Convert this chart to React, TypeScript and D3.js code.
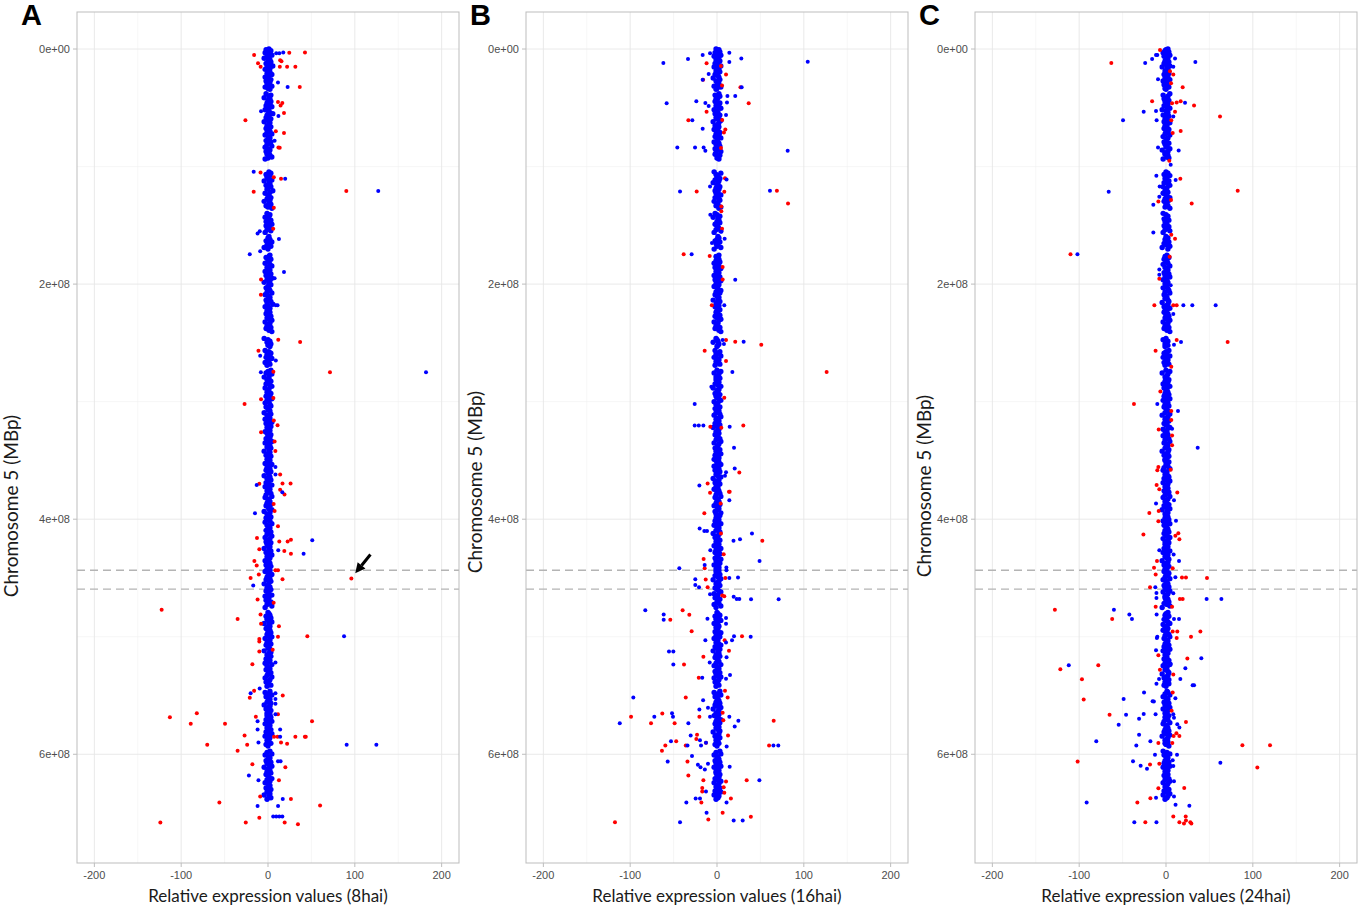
import * as d3 from 'd3'
import React from 'react'

const W = 1358
const H = 905
const PANEL_W = 382
const PANEL_TOP = 12
const PANEL_BOTTOM = 863

const panelLefts = [77, 526, 975]
const panelLabels = ['A', 'B', 'C']
const xTitles = [
  'Relative expression values (8hai)',
  'Relative expression values (16hai)',
  'Relative expression values (24hai)',
]
const yTitle = 'Chromosome 5 (MBp)'
// y title placement differs a little between the three pasted panels
const yTitleX = [18, 482, 931]
const yTitleMid = [506, 482, 486]

const xTicks = [-200, -100, 0, 100, 200]
const xMinor = [-150, -50, 50, 150]
const yTicks = [0, 200, 400, 600]
const yTickLabels = ['0e+00', '2e+08', '4e+08', '6e+08']
const yMinor = [100, 300, 500]
// the two dashed lines (Mbp)
const dashedMbp = [443.5, 459.5]
// arrow in panel A: [value, Mbp]
const arrowFrom: [number, number] = [118, 430]
const arrowTo: [number, number] = [100.5, 446]

const parse = (s: string) => s.trim().split(/\s+/).map(Number)

// positions of the genes in the dense central column (Mbp)
const geneMbp = parse(`
0 0.6 1.5 2.4 3.1 4.0 5.2 6.1 7.0 7.8 9.1 10.2 11.0 12.3 13.1 14.4 15.2 16.5 17.3 18.6 19.4 20.8 21.7 22.5 23.9 24.6 26.0 27.2 28.1 29.5 30.3 31.6 32.4 33.5 34.3
38.0 39.2 40.1 41.5 42.3 43.8 44.6 45.9 47.0 48.2 49.1 50.4 51.6 52.5 53.9 55.0 56.2 57.1 58.5 59.4 60.8 61.9 62.7 64.1 65.3 66.2 67.6 68.5 69.9 71.0
72.2 73.1 74.5 75.6 76.4 77.9 79.0 80.2 81.1 82.6 83.5 84.9 86.0 87.2 88.3 89.5 90.4 91.8 92.7 93.6
104.5 105.6 106.8 107.7 109.1 110.2 111.4 112.3 113.7 114.6 116.0 117.1 118.3 119.2 120.6 121.8 122.7 124.1 125.0 126.4 127.5 128.7 129.6 131.0 132.1 133.3 134.5 135.4
139.8 141.0 142.2 143.1 144.5 145.6 146.8 147.7 149.1 150.3 151.2 152.6 153.8 154.7 156.0
159.5 160.8 162.0 163.2 164.1 165.5 166.6 167.8 168.9 170.2
175.3 176.5 177.4 178.8 180.0 181.1 182.3 183.2 184.6 185.8 186.7 188.1 189.2 190.4 191.3 192.7 193.9 195.0 196.2 197.1 198.5 199.7 200.6 202.0 203.2 204.1
205.5 206.7 207.6 209.0 210.1 211.3 212.2 213.6 214.8 215.7 217.1 218.3 219.2 220.6 221.8 222.7 224.0 225.2 226.4 227.3 228.7 229.9 230.8 232.2 233.4 234.3 235.7 236.9 237.8 239.2 240.4
246.2 247.4 248.6 249.5 250.9 252.1 253.0
256.4 257.6 258.8 259.7 261.1 262.3 263.2 264.6 265.8 266.7 268.1 269.0
273.2 274.4 275.6 276.5 277.9 279.1 280.0 281.4 282.6 283.5 284.9 286.1 287.0 288.4 289.6 290.5 291.9 293.1 294.0 295.4 296.6 297.5 298.9 300.1 301.0 302.4
303.6 304.5 305.9 307.1 308.0 309.4 310.6 311.5 312.9 314.1 315.0 316.4 317.6 318.5 319.9 321.1 322.0 323.4 324.6 325.5 326.9 328.1 329.0 330.4 331.6 332.5
333.9 335.1 336.0 337.4 338.6 339.5 340.9 342.1 343.0 344.4 345.6 346.5 347.9 349.1 350.0 351.4 352.6 353.5 354.9 356.1 357.0 358.4 359.6 360.5 361.9 363.1
364.0 365.4 366.6 367.5 368.9 370.1 371.0 372.4 373.6 374.5 375.9 377.1 378.0 379.4 380.6 381.5 382.9 384.1 385.0 386.4 387.6 388.5 389.9 391.1 392.0 393.4
394.6 395.5 396.9 398.1 399.0 400.4 401.6 402.5 403.9 405.1 406.0 407.4 408.6 409.5 410.9 412.1 413.0 414.4 415.6 416.5 417.9 419.1 420.0 421.4 422.6 423.5
424.9 426.1 427.0 428.4 429.6 430.5 431.9 433.1 434.0 435.4 436.6 437.5 438.9 440.1 441.0 442.4 443.6 444.5 445.9 447.1 448.0 449.4 450.6 451.5 452.9 454.1
455.0 456.4 457.6 458.5 459.9 461.1 462.0 463.4 464.6 465.5 466.9 468.1 469.0 470.4 471.6 472.5 473.9 475.1
479.3 480.5 481.7 482.6 484.0 485.2 486.1 487.5 488.7 489.6 491.0 492.2 493.1 494.5 495.7 496.6 498.0 499.2 500.1 501.5 502.7 503.6 505.0 506.2 507.1 508.5
509.7 510.6 512.0 513.2 514.1 515.5 516.7 517.6 519.0 520.2 521.1 522.5 523.7 524.6 526.0 527.2 528.1 529.5 530.7 531.6 533.0 534.2 535.1 536.5 537.7 538.6 540.0 541.2 542.1
546.3 547.5 548.7 549.6 551.0 552.2 553.1 554.5 555.7 556.6 558.0 559.2 560.1 561.5 562.7 563.6 565.0 566.2 567.1 568.5 569.7 570.6 572.0 573.2 574.1
575.5 576.7 577.6 579.0 580.2 581.1 582.5 583.7 584.6 586.0 587.2 588.1 589.5 590.7 591.6 593.0
597.3 598.5 599.7 600.6 602.0 603.2 604.1 605.5 606.7 607.6 609.0 610.2 611.1 612.5 613.7 614.6 616.0 617.2 618.1 619.5 620.7 621.6 623.0 624.2 625.1
626.5 627.7 628.6 630.0 631.2 632.1 633.5 634.7 635.6 637.0 638.2 639.1 640.5 641.7 642.6 644.0 645.2 646.1 647.5 648.7 649.6 651.0 652.2 653.1 654.5
655.7 656.6 658.0 659.2 660.1
`)

// core values per gene, one list per time point, stored in steps of CORE_STEP
const CORE_STEP = 1.1
const core8 = parse(`
1 -2 3 0 -3 2 4 -1 1 -4 2 0 3 -2 1 5 -1 2 -3 0
2 -1 4 1 -3 0 3 -2 2 -1 1 4 -3 0 2 -2 3 1 -4 2
0 3 -1 2 -2 4 1 -3 0 2 5 -1 1 -2 3 0 -4 2 1 -1
3 -2 0 2 -1 4 -3 1 2 0 -2 3 1 -1 4 -3 0 2 -2 1
-1 2 4 0 -3 1 3 -2 2 -1 0 4 -4 1 2 -2 3 0 -1 5
2 -3 1 0 3 -1 2 -4 1 3 -2 0 4 -1 2 1 -3 0 3 -2
1 4 -2 0 2 -1 3 -3 1 0 2 -2 4 1 -1 3 -4 0 2 1
-2 3 0 1 -3 2 4 -1 0 2 -3 1 3 -2 0 4 -1 2 -4 1
3 0 -2 1 2 -1 4 -3 0 2 1 -2 3 -1 5 0 -3 2 1 -1
2 -2 0 3 -1 1 4 -3 2 0 -1 3 -2 1 4 -4 0 2 -1 3
0 2 -3 1 3 -1 2 -2 4 0 1 -3 2 -1 3 0 -2 4 1 -4
1 -1 3 0 -2 2 4 -3 1 0 -1 3 2 -2 0 4 -1 1 -3 2
3 -2 1 0 2 -4 3 -1 1 2 -3 0 4 -2 1 3 -1 0 2 -3
-1 3 0 2 -2 1 4 -3 0 2 -1 3 1 -4 2 0 -2 3 1 -1
2 0 -3 4 1 -1 2 -2 3 0 1 -4 2 -1 3 1 -2 0 4 -3
1 2 -1 0 3 -2 4 -3 1 0 2 -1 3 -2 0 1 4 -4 2 -1
0 3 -2 1 2 -3 4 -1 0 2 1 -2 3 0 -1 4 -3 2 1 -2
3 -1 0 2 -4 1 3 -2 0 4 -1 2 1 -3 0 2 -2 3 1 -1
2 -3 1 4 0 -1 2 -2 3 1 -4 0 2 -1 3 -2 1 0 4 -3
1 0 -2 3 2 -1 4 -3 0 1 2 -2 3 -1 0 4 -4 1 2 -1
-2 2 0 3 -1 1 4 -3 2 0 -1 3 -2 1 0 2 -4 3 1 -1
3 0 -2 2 1 -3 4 -1 0 2 -2 1 3 0 -1 4 -3 2 1 -2
0 3 -1 2 -3 1 4 -2 0 2 1 -1 3 -4 2 0 -2 3 1 -1
2 -1 3 0 -2 4 1 -3 2 0 -1 3 1 -2 4 0 -3 2 1 -1
1 3 -2 0 2 -1 4 -3 1 2 0 -2 3 -1 1 4 -4 0 2 -1
3 -2 0 1 4 -1 2 -3 0 2 1 -2 3 0 -1 2 -4 1 3 -1
`)

const core16 = parse(`
-1 2 0 3 -2 1 4 -3 2 0 -1 3 1 -2 0 4 -3 1 2 -1
3 0 -2 1 2 -4 3 -1 0 2 1 -3 4 0 -1 2 -2 3 1 -1
0 -2 3 1 -1 2 4 -3 0 1 -2 3 2 -1 0 4 -4 2 1 -2
2 1 -3 0 3 -1 2 -2 4 1 0 -3 2 -1 3 0 -2 1 4 -1
-2 3 1 0 2 -3 4 -1 1 0 3 -2 2 -4 1 0 3 -1 2 -2
1 -1 4 0 -2 2 3 -3 0 1 -1 4 2 -2 0 3 -4 1 2 0
3 -2 0 1 2 -1 4 -3 1 2 0 -2 3 -1 1 0 4 -3 2 -1
0 2 -1 3 -3 1 2 -2 4 0 -1 2 1 -3 3 0 -2 4 1 -1
2 -3 0 1 4 -1 3 -2 0 2 1 -4 3 0 -1 2 -2 1 3 0
-1 1 3 -2 0 4 2 -3 1 0 -1 3 -2 2 4 -1 0 1 -4 2
1 0 -2 3 2 -1 4 -3 0 2 -1 1 3 -2 0 4 -3 2 1 -1
3 -1 0 2 -2 1 4 -4 2 0 1 -2 3 -1 0 2 4 -3 1 -1
0 3 -2 1 2 -1 3 -3 4 0 -1 2 1 -2 3 0 -4 2 1 -1
2 -2 1 0 3 -1 4 -3 2 1 0 -2 3 -1 1 4 -2 0 2 -3
-1 2 0 4 -3 1 2 -2 3 0 -1 1 4 -4 2 0 -2 3 1 -1
1 -3 2 0 3 -1 4 -2 1 0 2 -1 3 -3 0 2 1 -2 4 -1
3 0 -1 2 -2 1 4 -3 0 2 1 -1 3 -4 2 0 -2 1 3 -1
0 2 -3 1 4 -1 2 -2 3 0 1 -2 4 -1 0 3 -3 1 2 -1
2 -1 0 3 -2 1 4 -4 2 0 -1 3 1 -2 0 2 4 -3 1 -1
-2 3 1 0 2 -3 4 -1 0 1 3 -2 2 -1 4 0 -3 1 2 -1
1 0 -2 4 2 -1 3 -3 1 0 -1 2 4 -2 0 3 -4 1 2 -1
3 -2 0 1 2 -1 4 -3 0 2 1 -2 3 -1 0 4 -3 2 1 -2
0 2 -1 3 -3 1 4 -2 0 1 2 -1 3 -2 0 4 -4 2 1 -1
2 -3 1 0 4 -1 3 -2 0 2 -1 1 3 -4 2 0 -2 3 1 -1
1 2 -2 0 3 -1 4 -3 1 0 2 -2 3 -1 0 4 -3 1 2 -1
-1 3 0 2 -2 1 4 -3 2 0 -1 3 1 -2 4 0 -3 2 1 -1
`)

const core24 = parse(`
2 0 -1 3 -3 1 4 -2 0 2 1 -1 3 -2 0 4 -4 1 2 -1
0 3 -2 1 2 -1 4 -3 1 0 -2 2 3 -1 0 4 -3 2 1 -2
3 -1 0 2 -2 1 4 -4 0 2 1 -3 3 0 -1 2 -2 4 1 -1
1 -2 3 0 2 -1 4 -3 2 1 0 -2 3 -1 1 0 4 -4 2 -1
-1 2 1 3 -3 0 2 -2 4 1 -1 0 3 -2 2 4 -3 1 0 -1
2 -3 0 1 4 -1 3 -2 1 0 2 -1 4 -3 0 2 1 -2 3 -1
0 1 -2 3 2 -1 4 -3 0 2 -1 1 3 -2 0 4 -4 2 1 -1
3 -2 1 0 2 -3 4 -1 1 2 0 -2 3 -1 4 0 -3 1 2 -1
1 0 -3 2 3 -1 4 -2 0 1 -1 2 3 -4 2 0 -2 4 1 -1
-2 2 0 3 -1 1 4 -3 2 0 -1 3 -2 1 4 0 -3 2 1 -1
2 -1 3 0 -2 1 4 -3 0 2 1 -2 3 -1 0 4 -4 2 1 -1
0 3 -1 2 -3 1 4 -2 1 0 2 -1 3 -2 0 4 -3 1 2 -1
3 -2 0 1 2 -1 4 -4 2 0 -1 3 1 -2 0 2 4 -3 1 -1
1 2 -3 0 3 -1 4 -2 0 2 1 -1 3 -4 2 0 -2 3 1 -1
-1 3 1 0 2 -2 4 -3 1 0 -1 2 3 -2 0 4 -3 2 1 -1
2 0 -2 3 1 -1 4 -3 2 0 -1 1 3 -2 0 4 -4 1 2 -1
0 2 -1 3 -3 1 4 -2 0 1 2 -1 3 -2 1 0 4 -3 2 -1
3 -1 0 2 -2 1 4 -3 0 2 -1 1 3 -4 2 0 -2 3 1 -1
1 -2 3 0 2 -1 4 -3 1 0 2 -2 3 -1 0 4 -3 2 1 -1
-1 2 0 3 -2 1 4 -4 2 0 -1 3 1 -2 0 2 4 -3 1 -1
2 -3 1 0 3 -1 4 -2 0 2 1 -1 3 -2 0 4 -3 1 2 -1
0 1 -2 3 2 -1 4 -3 1 0 -1 2 3 -4 2 0 -2 3 1 -1
3 -2 0 1 2 -1 4 -3 0 2 1 -2 3 -1 0 4 -3 2 1 -1
1 3 -1 0 2 -2 4 -3 1 0 2 -1 3 -2 0 4 -4 2 1 -1
2 -1 0 3 -3 1 4 -2 0 2 1 -1 3 -2 0 4 -3 1 2 -1
0 2 -2 1 3 -1 4 -3 2 0 -1 1 3 -2 0 4 -3 2 1 -1
`)

// scattered genes: [Mbp, relative expression]
const red8: [number, number][] = [
  [3.1, 24.5], [3, 42.6], [5, -16], [12, -11.5], [9.5, 14], [10.5, 15.5], [15, 22], [15, 31.5], [15, 13.6], [15, -8.5],
  [32.3, 36.6], [45, 11.5], [46, 16.5], [48, 14.5], [54.5, 18.4], [60.7, -26], [70, 9], [71.5, 18.4], [83.7, 12], [84, 13.5],
  [105, -8.6], [110.4, 15], [121.4, -16.5], [120.8, 90.2], [109, 6.7], [135, 6.7], [153, 6], [196, -8], [209, -8.2], [247.4, 11.8],
  [249.3, 37], [256.7, -11], [274.5, 6.2], [274.9, 71.4], [302, -27], [298, -8], [297, 6.2], [320, 11], [316, 6.7], [326, -8],
  [334, 7.6], [342, 8.5], [362, 14], [369.8, -10], [369.6, 16.7], [369.6, 26], [375, 14], [379, 19], [387, 6.5], [393, 7.6],
  [406, 11.5], [416, -12.7], [419, 13], [419, 22.6], [417.5, 26.4], [429.5, 26.4], [427, 18.8], [425.5, -10], [435.5, -15.7], [439.5, -13],
  [447, -10.6], [450, -20], [443.5, 8.6], [443.5, 11.5], [451, 16.7], [450.5, 96], [468.4, -12], [471, 6.5], [477, -122.5], [485, -35],
  [481, -8.6], [489, -8], [491, 12.6], [499.5, 45.3], [500, 11.5], [502, -10], [504, -10], [512.6, -10], [511, 5.4], [523.4, -18],
  [546, -16], [552, -21], [550, 17], [568.5, -113], [565, -82], [574, -89], [574, -49.5], [592, -70], [592, -24], [597, -35],
  [584, -27], [568, -14], [566, 11.5], [585, 7], [585, 11], [590, 15], [591, 22], [585, 31.5], [585, 42.5], [585, 43.5],
  [572, 50.7], [611, 20], [608.5, -18], [622, 12.6], [641, -56], [638, 26.4], [643.6, 60], [636, -9], [658, -124], [658, -25.6],
  [654, -10], [659.5, 34.5], [658, 19.2],
]
const blue8: [number, number][] = [
  [3, 17.6], [3.5, 13], [3.5, 9.5], [28.4, 11.5], [32.3, 22.6], [57, 12], [53, -8], [78, 7.6], [104.4, -16.5], [110.4, 19.8],
  [120.8, 127], [157, -12], [155, -9.5], [161.7, 12.6], [174.5, -21], [172, -9], [189.8, 18.4], [195, 7.6], [218, 9], [218, 11],
  [261, -9], [265, 9], [275, -8.2], [274.9, 182], [355.5, 8.6], [362, 8.6], [371, -13], [377, 16.5], [395, -15], [418, 51],
  [429.5, 41], [426.5, 11.8], [456.5, -17], [499.5, 87.6], [522, 8.6], [548, -20], [544, -9.6], [548, 8.6], [553, 8.6], [557, 8.6],
  [572, -12], [579, -12], [590, -11], [566, 8.6], [579, 14], [585, 14], [592, 90.6], [592, 124.8], [606, 11.5], [606, 14.5],
  [618, -22], [622, -11], [638, 17], [644, 11.6], [644, -12], [653, 6], [653, 9.5], [653, 13], [653, 16.5],
]

const red16: [number, number][] = [
  [12.2, -12], [14.5, 4.6], [21.6, 10.4], [26.1, -16], [31, 5.8], [32.6, 27], [46.2, 36.5], [53.3, -12], [60.7, -33], [60.4, 6],
  [68.4, 9.6], [71, 8], [84.2, 4.6], [110, 9.2], [121.2, -23.4], [121.4, 8.4], [120.6, 69], [131.4, 81.8], [134, 5], [138, 5],
  [153, 5.8], [174.5, -38.4], [176, -8.4], [185.5, 6.5], [196, 6.5], [218, -6], [247.6, 10.4], [249, 21], [251.6, 51], [256.7, -14.2],
  [265.5, 10.4], [274.8, 126.3], [296.7, 8.4], [321.4, -7.7], [322.3, 5], [320.3, 30.3], [360.2, 25.7], [369.6, -10.8], [377.6, -8], [376.7, 13.8],
  [376.7, 14.6], [386.6, 4.2], [395, -14.6], [418.4, 52.2], [412.2, 4.6], [433.8, -15.4], [429.8, 7.7], [441.7, -14.2], [451.3, -13], [457.8, -10.8],
  [450, 9.6], [465, 6.1], [465.5, 8.4], [477.5, -39.6], [481.2, -31.9], [485.5, -53.8], [495.4, -29.2], [499.5, 28.8], [503, 8.8], [523.6, -38],
  [517, -15.7], [512, 13.8], [535, -21], [546, 9.2], [551.8, 12.3], [551.8, -36], [568, -20.3], [568, -99], [573.7, -76], [565.3, -63],
  [573.7, -48.8], [571.5, 65.3], [564.7, 6.5], [571, 7.3], [583.3, -23], [587, -23.8], [590.3, -12.7], [589, -47], [592.6, -59.5], [597, -63.4],
  [592.6, -36], [584, 12.7], [592.6, 60], [606.2, -34], [618.1, -33], [622, -15.7], [622, 34.2], [623.1, 10.4], [628.6, -17], [631.6, -17],
  [628, 7.7], [632.7, 8.4], [641, -18], [637.6, 16], [649.8, 6.5], [653.2, 39], [657.8, -117.5], [655.5, -10],
]
const blue16: [number, number][] = [
  [11.9, -61.8], [8.5, -33.4], [5.1, -16.5], [3.7, -8], [3.1, 14.2], [8, 28], [11, 14.2], [10.8, 104.5], [21.3, -9.6], [26.1, -16.5],
  [32.6, 28.4], [46.2, -58], [44.5, -23.8], [46, -13.4], [48.5, -9.6], [40, 12], [40, 21], [45.5, 11.5], [56.2, 10.4], [60.7, -28.4],
  [67.8, -16.5], [83.7, -45.7], [83.7, -25.3], [83.7, -15.4], [86.5, -13.4], [86.5, 81.4], [111, 11], [116.9, -8], [121.2, -42.6], [120.6, 61],
  [141, -7.7], [155.5, 5], [161.4, 8.8], [165, -5.8], [174.5, -29.2], [196.3, 21], [218, 8.4], [249, 30.7], [247.6, 6.5], [251, 8],
  [274.8, 17.7], [287.3, -6.5], [302, -25.7], [320.3, -25.7], [320.3, -21], [320.3, -15.7], [321.4, 14.6], [339.3, 19.6], [356.8, 20.4], [360, 10.4],
  [363, 9.2], [371.4, -20.3], [383.8, 14.2], [408, -20], [410, -14.6], [410, -11.5], [412.2, 40.3], [417, 26.5], [418.4, 19], [426.4, -7.7],
  [435.5, 49], [439, -14.2], [441, 10.8], [443.5, 10.8], [441.7, -43.4], [451, -25], [456, -25], [458, -20.7], [450, 14.2], [449.6, 24.2],
  [463.8, -8], [466, 19.2], [468, 22.7], [468, 25.7], [468.1, 39.2], [468.1, 71], [477.5, -82.6], [481, -61.4], [485.5, -61.4], [484.6, -11],
  [484, 10.4], [489, 10.4], [500, 38.8], [499.5, 19.6], [503, 17.3], [503, -13.4], [505, 10.4], [512.6, -55.3], [512.6, -50.3], [523.6, -50.3],
  [522, -8.4], [517.5, 11], [535, -17], [532.5, 15], [535.8, 10.4], [551.8, -96.4], [554, -16], [560.5, -10.4], [562, -20.3], [573.7, -112],
  [568, -72.2], [565, -51.8], [568, -50.7], [573.7, -33], [568, -8], [568, 14.2], [571.5, 24.6], [576.3, 20.4], [584, -30.3], [588, -19.6],
  [590.3, -12.7], [588.9, -53], [592.6, -34], [592.6, -18.4], [593.3, 11.1], [592.6, 65], [592.6, 70.6], [601.4, -28.8], [606.2, -56.8], [609, -22],
  [611, -19], [613, -14], [608, -10.4], [610.6, 14.6], [622, 48.8], [631.6, -12.7], [637.6, -24.6], [637.6, -19.6], [641, -35.3], [641, 11],
  [649.8, -12], [657.8, -42.6], [656.3, 19.2], [656.3, 29.6],
]

const red24: [number, number][] = [
  [0.85, -6.9], [11.9, -63], [19, 4.6], [21.6, 8.4], [29.2, 5.8], [32.6, 19.2], [44.5, -16], [46.2, 7], [45.5, 12.3], [44.5, 16.9],
  [48, 32.3], [53.3, 10.4], [57.3, 62.2], [60.7, 6.1], [69.8, 16.9], [71.5, 7.7], [95, 3.8], [110.4, 16.5], [120.6, 82.6], [129.7, -8.8],
  [128.5, 5.8], [131.4, 29.6], [158, 6.1], [161.4, 10.4], [174.5, -110], [176.7, 4.2], [195.5, -7.7], [218, -13.4], [218, 8.4], [218, 12.3],
  [247.5, 12.3], [249.3, 71], [256.7, -12], [270.3, 6.1], [291.3, -6.5], [302, -36.9], [308, 6.1], [315.7, 6.1], [323.7, -8.4], [328.8, 7],
  [337, 7], [355.5, -8.8], [358.3, -10], [358, 5.4], [371, -10.8], [374.5, -7.7], [377.3, 13], [394.8, -19.2], [393, -8.4], [401.7, -8.8],
  [413, -26], [412, 14.2], [414, 10.8], [417, 15.4], [435.5, -10.4], [441.3, -13.8], [447, -11.9], [441.8, 7.7], [449.7, 18.4], [449.7, 23],
  [450, 47.2], [457.8, -18.4], [468, 16], [468, 19.2], [474.5, -11.9], [474.5, 7], [477, -128], [485, -62], [495.6, 7.7], [495.6, 13],
  [495.6, 39.6], [500, 28.8], [501, 12.3], [515.8, -8.8], [518.6, 24.6], [527.6, -121.7], [524.3, -78], [536.2, -96.8], [528, -7], [532.2, 8.4],
  [547.4, 7.7], [553.3, -94.8], [563, 6.5], [566.3, -65], [572.5, 23], [582.2, 12], [584.5, 8.8], [584.5, 15.4], [590.5, -8.8], [590.5, 7.3],
  [592.4, 88], [592.4, 119.8], [606.2, -101.8], [608.6, -18.4], [608, -7.7], [611.3, 105.2], [628.6, 21], [629, -8.8], [637.4, -18], [641, -33],
  [657.8, -23.8], [653, 22.7], [656.3, 23], [657.8, 28], [659, 29.2], [657.8, 15.4], [659, 20.7], [653, 8.4],
]
const blue24: [number, number][] = [
  [5, -11.5], [5, -10], [8.5, -16], [11.9, -24], [8, 10.4], [11, 33.8], [15, 8.4], [25.8, -9.2], [45.7, 21.9], [53.3, -25.7],
  [52.8, -11.5], [57.3, 8.4], [60.7, -49.5], [60.7, -10.8], [83.7, -9.2], [86.3, 14.6], [98.4, 5.4], [107.8, -11.1], [111.5, 11.1], [116.9, -7.3],
  [121.4, -66], [125.7, -7.7], [132.5, -14.6], [156, -14.6], [174.5, -102], [187.5, -7.7], [192, -7.7], [201, 5.4], [218, 20], [218, 30.3],
  [218, 57.2], [225.5, 8.4], [249.3, 17.3], [251.6, 9.2], [302, -10], [308, 13.8], [323, 7], [339.3, 36.5], [383.8, 9.2], [386.6, -11.5],
  [401.4, 11.5], [426.4, -7.7], [430, 8.8], [435.5, 15], [449.3, 10.8], [457.8, -12.3], [462.7, -11], [467, -11], [463, 8.4], [468, 46.8],
  [468, 63.8], [477, -60], [481, -42.2], [485, -39.2], [481, -10.8], [485, 9.2], [485, 15], [500, -10], [501, -10.5], [511.5, -11.5],
  [518.3, 40.7], [523, 5.4], [526.8, 22.3], [524.3, -112], [536, -8], [536, 16.5], [541.2, 30.7], [541.2, 32.3], [540, -11], [547.4, -25.3],
  [553, -48.8], [554.8, -15.4], [555, -14], [552.4, 10.8], [566.3, -46], [569.7, -31], [565.7, -25.7], [566, -12], [566, 8.4], [569, 9.2],
  [574.8, -54.5], [574.5, 13], [577.3, 15.4], [583.3, -31], [589, -18], [592.6, -34.2], [589, -80.3], [600.3, -12.7], [600.3, 12.7], [606, -38],
  [609.7, -29.2], [612.3, -21.9], [605, 7.7], [610, 8.4], [607.3, 62.6], [623, 9.2], [637, -11.5], [636, 9.2], [641, -91.4], [643.8, 26.9],
  [643, 11], [657.8, -36.5], [657.8, -11],
]

const cores = [core8, core16, core24]
const reds = [red8, red16, red24]
const blues = [blue8, blue16, blue24]

const RED = '#ff0000'
const BLUE = '#0000ff'
const R = 2
// the central column is many overlapping genes; draw them a little fatter so it reads solid
const R_CORE = 2.7
const tickFont = '"Liberation Sans", Arial, sans-serif'
const titleFont = 'Lato, "Open Sans", sans-serif'

interface PanelProps {
  index: number
}

const Panel: React.FC<PanelProps> = ({ index }) => {
  const left = panelLefts[index]
  const x = d3.scaleLinear().domain([-220, 220]).range([left, left + PANEL_W])
  const y = d3.scaleLinear().domain([-31.5, 692.5]).range([PANEL_TOP, PANEL_BOTTOM])
  const core = cores[index]
  const n = Math.min(core.length, geneMbp.length)
  const coreDots = geneMbp.slice(0, n).map((m, i) => [m, core[i] * CORE_STEP] as [number, number])

  // arrow for panel A
  let arrow: React.ReactNode = null
  if (index === 0) {
    const x1 = x(arrowFrom[0])
    const y1 = y(arrowFrom[1])
    const x2 = x(arrowTo[0])
    const y2 = y(arrowTo[1])
    const ang = Math.atan2(y2 - y1, x2 - x1)
    const hl = 10
    const hw = 5
    const bx = x2 - hl * Math.cos(ang)
    const by = y2 - hl * Math.sin(ang)
    const px = -Math.sin(ang) * hw
    const py = Math.cos(ang) * hw
    arrow = (
      <g>
        <line x1={x1} y1={y1} x2={bx} y2={by} stroke="#000" strokeWidth={3} />
        <polygon points={`${x2},${y2} ${bx + px},${by + py} ${bx - px},${by - py}`} fill="#000" />
      </g>
    )
  }

  const top = PANEL_TOP
  const bottom = PANEL_BOTTOM
  const right = left + PANEL_W

  return (
    <g>
      {/* grid */}
      {xMinor.map(v => (
        <line key={`xm${v}`} x1={x(v)} x2={x(v)} y1={top} y2={bottom} stroke="#f0f0f0" strokeWidth={0.6} />
      ))}
      {yMinor.map(v => (
        <line key={`ym${v}`} x1={left} x2={right} y1={y(v)} y2={y(v)} stroke="#f0f0f0" strokeWidth={0.6} />
      ))}
      {xTicks.map(v => (
        <line key={`xg${v}`} x1={x(v)} x2={x(v)} y1={top} y2={bottom} stroke="#e6e6e6" strokeWidth={0.9} />
      ))}
      {yTicks.map(v => (
        <line key={`yg${v}`} x1={left} x2={right} y1={y(v)} y2={y(v)} stroke="#e6e6e6" strokeWidth={0.9} />
      ))}

      {/* dashed region */}
      {dashedMbp.map(v => (
        <line
          key={`d${v}`}
          x1={left}
          x2={right}
          y1={y(v)}
          y2={y(v)}
          stroke="#b4b4b4"
          strokeWidth={1.4}
          strokeDasharray="8,5"
        />
      ))}

      {/* points */}
      {coreDots.map((d, i) => (
        <circle key={`c${i}`} cx={x(d[1])} cy={y(d[0])} r={R_CORE} fill={BLUE} />
      ))}
      {reds[index].map((d, i) => (
        <circle key={`r${i}`} cx={x(d[1])} cy={y(d[0])} r={R} fill={RED} />
      ))}
      {blues[index].map((d, i) => (
        <circle key={`b${i}`} cx={x(d[1])} cy={y(d[0])} r={R} fill={BLUE} />
      ))}

      {arrow}

      {/* border */}
      <rect x={left} y={top} width={PANEL_W} height={bottom - top} fill="none" stroke="#bdbdbd" strokeWidth={1} />

      {/* x axis */}
      {xTicks.map(v => (
        <g key={`xt${v}`}>
          <line x1={x(v)} x2={x(v)} y1={bottom} y2={bottom + 4} stroke="#bdbdbd" strokeWidth={1} />
          <text
            x={x(v)}
            y={bottom + 16}
            textAnchor="middle"
            fontSize={11}
            fontFamily={tickFont}
            fill="#4d4d4d"
          >
            {v}
          </text>
        </g>
      ))}
      <text
        x={left + PANEL_W / 2}
        y={bottom + 39}
        textAnchor="middle"
        fontSize={17}
        fontFamily={titleFont}
        fill="#1a1a1a"
      >
        {xTitles[index]}
      </text>

      {/* y axis */}
      {yTicks.map((v, i) => (
        <g key={`yt${v}`}>
          <line x1={left - 4} x2={left} y1={y(v)} y2={y(v)} stroke="#bdbdbd" strokeWidth={1} />
          <text
            x={left - 7}
            y={y(v) + 4}
            textAnchor="end"
            fontSize={11}
            fontFamily={tickFont}
            fill="#4d4d4d"
          >
            {yTickLabels[i]}
          </text>
        </g>
      ))}
      <text
        transform={`translate(${yTitleX[index]}, ${yTitleMid[index]}) rotate(-90)`}
        textAnchor="middle"
        fontSize={19}
        fontFamily={titleFont}
        fill="#1a1a1a"
      >
        {yTitle}
      </text>

      {/* panel letter */}
      <text
        x={left - 56}
        y={25}
        fontSize={29}
        fontWeight="bold"
        fontFamily={tickFont}
        fill="#000"
      >
        {panelLabels[index]}
      </text>
    </g>
  )
}

export default function App() {
  return (
    <div style={{ position: 'absolute', left: 0, top: 0, background: '#fff' }}>
      <svg width={W} height={H} viewBox={`0 0 ${W} ${H}`} style={{ display: 'block' }}>
        <rect width={W} height={H} fill="#fff" />
        {panelLefts.map((_, i) => (
          <Panel key={i} index={i} />
        ))}
      </svg>
    </div>
  )
}
